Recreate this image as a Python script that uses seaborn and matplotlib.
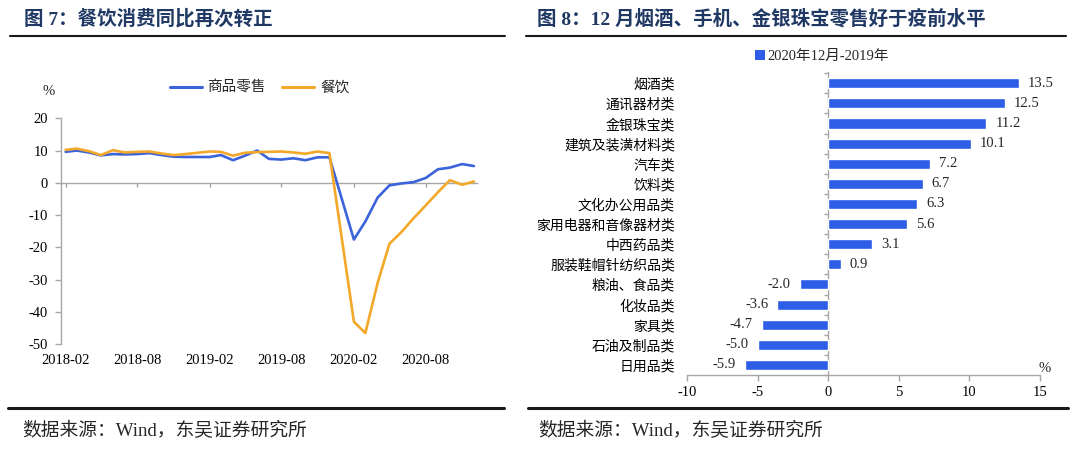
import matplotlib
matplotlib.use('Agg')
import matplotlib.pyplot as plt
import matplotlib.dates as mdates
import seaborn as sns
import pandas as pd
import numpy as np
from matplotlib.lines import Line2D
from matplotlib.patches import Patch

# ---------------- data ----------------
months = ['2018-02', '2018-03', '2018-04', '2018-05', '2018-06', '2018-07', '2018-08',
          '2018-09', '2018-10', '2018-11', '2018-12',
          '2019-02', '2019-03', '2019-04', '2019-05', '2019-06', '2019-07', '2019-08',
          '2019-09', '2019-10', '2019-11', '2019-12',
          '2020-02', '2020-03', '2020-04', '2020-05', '2020-06', '2020-07', '2020-08',
          '2020-09', '2020-10', '2020-11', '2020-12']
goods = [9.6, 10.0, 9.4, 8.5, 8.9, 8.8, 8.9, 9.2, 8.6, 8.1, 8.0,
         8.0, 8.6, 7.0, 8.4, 10.0, 7.4, 7.2, 7.6, 7.0, 7.9, 7.9,
         -17.6, -12.0, -4.6, -0.8, -0.2, 0.2, 1.5, 4.2, 4.7, 5.8, 5.2]
catering = [10.2, 10.6, 9.8, 8.6, 10.1, 9.4, 9.6, 9.7, 9.1, 8.6, 8.9,
            9.7, 9.6, 8.4, 9.3, 9.5, 9.6, 9.7, 9.4, 9.0, 9.7, 9.2,
            -43.1, -46.6, -31.1, -18.9, -15.2, -11.0, -7.0, -2.9, 0.8, -0.6, 0.4]
series_names = ['商品零售', '餐饮']
x_tick_labels = ['2018-02', '2018-08', '2019-02', '2019-08', '2020-02', '2020-08']

categories = ['烟酒类', '通讯器材类', '金银珠宝类', '建筑及装潢材料类', '汽车类', '饮料类',
              '文化办公用品类', '家用电器和音像器材类', '中西药品类', '服装鞋帽针纺织品类',
              '粮油、食品类', '化妆品类', '家具类', '石油及制品类', '日用品类']
values = [13.5, 12.5, 11.2, 10.1, 7.2, 6.7, 6.3, 5.6, 3.1, 0.9, -2.0, -3.6, -4.7, -5.0, -5.9]
bar_series = '2020年12月-2019年'

title_left = '图 7：餐饮消费同比再次转正'
title_right = '图 8：12 月烟酒、手机、金银珠宝零售好于疫前水平'
source = '数据来源：Wind，东吴证券研究所'

# ---------------- style ----------------
BLUE = '#3B63DA'
ORANGE = '#F3A82A'
BAR_BLUE = '#2E5DE8'
NAVY = '#1F3864'
GRAY = '#A6A6A6'

sns.set_theme(style='white')
plt.rcParams['font.family'] = ['Liberation Serif', 'Noto Sans CJK SC']
plt.rcParams['axes.unicode_minus'] = False

W, H = 1080, 449
fig = plt.figure(figsize=(W / 100, H / 100), dpi=100)
fig.patch.set_facecolor('white')


def fx(x):
    return x / W


def fy(y):
    return 1 - y / H


# ---------------- left chart ----------------
ax1 = fig.add_axes([fx(60.5), fy(344), (477.5 - 60.5) / W, (344 - 118.3) / H])
dates = pd.to_datetime(months)
df = pd.DataFrame({
    'date': list(dates) * 2,
    'value': goods + catering,
    'series': [series_names[0]] * len(goods) + [series_names[1]] * len(catering),
})
sns.lineplot(data=df, x='date', y='value', hue='series', hue_order=series_names,
             palette={series_names[0]: BLUE, series_names[1]: ORANGE},
             linewidth=1.9, ax=ax1, legend=False)
ax1.set_ylim(-50, 20)
ax1.set_yticks(range(-50, 21, 10))
ax1.set_xlim(pd.Timestamp('2018-01-19'), pd.Timestamp('2020-12-10'))
xt = pd.to_datetime(x_tick_labels)
ax1.set_xticks(xt)
ax1.set_xticklabels(x_tick_labels)
ax1.set_xlabel('')
ax1.set_ylabel('')
for s in ['top', 'right', 'bottom']:
    ax1.spines[s].set_visible(False)
ax1.spines['left'].set_color(GRAY)
ax1.spines['left'].set_linewidth(1)
ax1.tick_params(axis='x', bottom=False, length=0, pad=7, labelsize=10.5, colors='black')
ax1.tick_params(axis='y', left=True, length=4, width=1, color=GRAY, direction='out',
                pad=5, labelsize=10.5, labelcolor='black')
ax1.set_facecolor('white')

# zero line with tick marks
zpos = (0 - (-50)) / 70
sec = ax1.secondary_xaxis(zpos)
sec.set_xticks(mdates.date2num(xt))
sec.set_xticklabels([''] * len(xt))
sec.tick_params(axis='x', direction='in', length=3, width=1, color=GRAY)
for s in sec.spines.values():
    s.set_color(GRAY)
    s.set_linewidth(1)

handles = [Line2D([0], [0], color=BLUE, lw=2.2), Line2D([0], [0], color=ORANGE, lw=2.2)]
fig.legend(handles, series_names, loc='center', bbox_to_anchor=(fx(259.5), fy(88)),
           ncol=2, frameon=False, fontsize=10.5, handlelength=2.2, handletextpad=0.4,
           columnspacing=1.1)
fig.text(fx(48.4), fy(91.7), '%', ha='center', va='center', fontsize=10.5)

# ---------------- right chart ----------------
ax2 = fig.add_axes([fx(687), fy(375), (1040 - 687) / W, (375 - 71.7) / H])
dfb = pd.DataFrame({'category': categories, 'value': values})
sns.barplot(data=dfb, x='value', y='category', orient='h', color=BAR_BLUE,
            saturation=1, width=0.5, ax=ax2)
ax2.set_xlim(-10, 15)
ax2.set_xticks(range(-10, 16, 5))
ax2.set_ylim(len(categories) - 0.5, -0.576)
ax2.set_xlabel('')
ax2.set_ylabel('')
for s in ['top', 'right', 'left']:
    ax2.spines[s].set_visible(False)
ax2.spines['bottom'].set_color(GRAY)
ax2.spines['bottom'].set_linewidth(1)
ax2.tick_params(axis='y', left=False, length=0, pad=8.6, labelsize=10, labelcolor='black')
ax2.tick_params(axis='x', bottom=True, length=4, width=1, color=GRAY, direction='out',
                pad=4, labelsize=10.5, labelcolor='black')
ax2.bar_label(ax2.containers[0], fmt='%.1f', padding=6.5, fontsize=10.5)
ax2.set_facecolor('white')

secy = ax2.secondary_yaxis((0 - (-10)) / 25)
secy.set_yticks(np.arange(-0.5, len(categories), 1))
secy.set_yticklabels([''] * len(np.arange(-0.5, len(categories), 1)))
secy.tick_params(axis='y', direction='out', length=3, width=1, color=GRAY)
for s in secy.spines.values():
    s.set_color(GRAY)
    s.set_linewidth(1)

fig.legend([Patch(facecolor=BAR_BLUE, edgecolor='none')], [bar_series], loc='center',
           bbox_to_anchor=(fx(822), fy(56.7)), frameon=False, fontsize=10.5,
           handlelength=0.7, handleheight=0.7, handletextpad=0.2)
fig.text(fx(1045), fy(368), '%', ha='center', va='center', fontsize=10.5)

# ---------------- titles, rules, sources ----------------
fig.text(fx(23.5), fy(18.3), title_left, ha='left', va='center', fontsize=14,
         fontweight='bold', color=NAVY)
fig.text(fx(537), fy(18.3), title_right, ha='left', va='center', fontsize=14,
         fontweight='bold', color=NAVY)
for (x0, x1) in [(10, 505), (526, 1066)]:
    fig.add_artist(Line2D([fx(x0), fx(x1)], [fy(36), fy(36)], transform=fig.transFigure,
                          color='#1a1a1a', lw=1.5))
for (x0, x1) in [(8, 504), (528, 1068)]:
    fig.add_artist(Line2D([fx(x0), fx(x1)], [fy(408), fy(408)], transform=fig.transFigure,
                          color='#1a1a1a', lw=2.2))
fig.text(fx(22), fy(431), source, ha='left', va='center', fontsize=13.5)
fig.text(fx(538), fy(431), source, ha='left', va='center', fontsize=13.5)

fig.savefig('out.png', dpi=100, facecolor='white')
